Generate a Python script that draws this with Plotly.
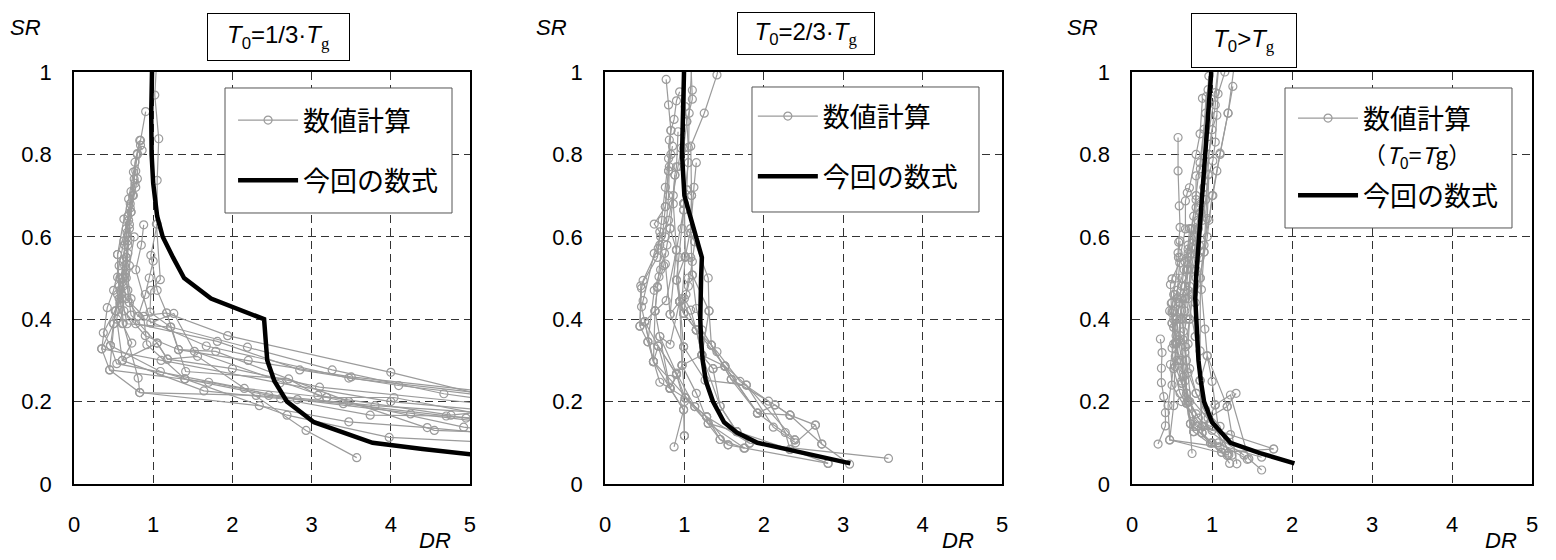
import plotly.graph_objects as go

# ---------------- data ----------------
# Panel 1 : T0 = 1/3 Tg   -- numerical results (DR, SR)
p1_num_x = [
    [1.06, 1.02, 1.07, 1.05, 1.05, 0.97, 1.05, 1.17, 1.94, 4.00, 5.40],
    [0.905, 0.84, 0.80, 0.75, 0.69, 0.63, 0.55, 0.55, 0.67, 1.22, 2.19, 3.26, 4.67, 5.40],
    [0.86, 0.84, 0.78, 0.80, 0.72, 0.68, 0.66, 0.72, 0.78, 1.81, 2.85, 4.10, 5.40],
    [0.83, 0.77, 0.75, 0.70, 0.68, 0.66, 0.70, 0.81, 1.67, 3.47, 5.40],
    [0.80, 0.76, 0.71, 0.67, 0.62, 0.58, 0.50, 0.46, 0.54, 2.15, 3.19, 4.04, 5.40],
    [0.78, 0.72, 0.68, 0.63, 0.57, 0.50, 0.42, 0.35, 0.45, 1.70, 2.82, 4.25, 5.40],
    [0.77, 0.71, 0.66, 0.55, 0.57, 0.61, 0.73, 0.61, 1.64, 2.61, 3.74, 4.70, 5.40],
    [0.74, 0.69, 0.64, 0.61, 0.66, 0.88, 0.92, 1.40, 2.69, 3.98, 5.40],
    [0.72, 0.68, 0.64, 0.60, 0.62, 0.81, 0.83, 2.34, 3.47, 4.46, 5.40],
    [1.04, 1.09, 0.97, 0.96, 1.22, 1.41, 2.71, 3.08, 4.76, 5.40],
    [0.88, 0.85, 0.78, 0.97, 1.26, 1.52, 3.19, 4.92, 5.40],
    [0.76, 0.70, 0.68, 0.72, 1.05, 1.18, 1.56, 2.93, 3.57],
    [0.70, 0.66, 0.61, 0.63, 0.90, 1.32, 1.79, 3.47, 4.55, 5.40],
    [0.68, 0.65, 0.60, 0.37, 0.46, 1.09, 1.40, 2.46, 3.80, 5.40],
    [1.00, 0.95, 0.90, 0.81, 1.17, 1.32, 2.20, 3.50, 5.40],
    [0.66, 0.62, 0.58, 0.54, 0.61, 1.05, 1.18, 2.00, 3.10, 5.40],
    [0.58, 0.55, 0.52, 0.45, 0.83, 2.30, 3.40, 4.95, 5.40],
    [0.62, 0.57, 0.53, 0.50, 0.35, 1.10, 2.60, 4.00, 5.40],
]
p1_num_y = [
    [1.08, 0.944, 0.838, 0.737, 0.631, 0.555, 0.47, 0.415, 0.36, 0.271, 0.205],
    [0.904, 0.834, 0.802, 0.757, 0.692, 0.643, 0.557, 0.502, 0.389, 0.381, 0.332, 0.277, 0.219, 0.20],
    [0.81, 0.822, 0.72, 0.741, 0.66, 0.59, 0.52, 0.45, 0.389, 0.346, 0.277, 0.239, 0.21],
    [0.834, 0.781, 0.70, 0.63, 0.56, 0.50, 0.44, 0.407, 0.335, 0.257, 0.215],
    [0.80, 0.74, 0.68, 0.61, 0.54, 0.47, 0.389, 0.336, 0.292, 0.232, 0.21, 0.21, 0.16],
    [0.76, 0.71, 0.65, 0.59, 0.53, 0.47, 0.428, 0.328, 0.277, 0.247, 0.205, 0.17, 0.145],
    [0.73, 0.67, 0.62, 0.557, 0.48, 0.389, 0.342, 0.30, 0.226, 0.207, 0.167, 0.165, 0.155],
    [0.70, 0.64, 0.58, 0.50, 0.45, 0.407, 0.338, 0.255, 0.167, 0.113, 0.10],
    [0.66, 0.60, 0.53, 0.46, 0.39, 0.257, 0.222, 0.19, 0.151, 0.137, 0.12],
    [0.631, 0.496, 0.47, 0.417, 0.381, 0.273, 0.255, 0.215, 0.167, 0.18],
    [0.629, 0.58, 0.52, 0.391, 0.414, 0.322, 0.21, 0.138, 0.128],
    [0.60, 0.53, 0.47, 0.41, 0.342, 0.303, 0.31, 0.13, 0.064],
    [0.62, 0.55, 0.49, 0.42, 0.36, 0.326, 0.322, 0.20, 0.13, 0.125],
    [0.58, 0.51, 0.45, 0.367, 0.336, 0.273, 0.255, 0.215, 0.19, 0.17],
    [0.541, 0.50, 0.46, 0.407, 0.415, 0.326, 0.30, 0.26, 0.22],
    [0.55, 0.50, 0.44, 0.40, 0.30, 0.342, 0.303, 0.28, 0.235, 0.19],
    [0.50, 0.46, 0.42, 0.277, 0.222, 0.215, 0.195, 0.16, 0.15],
    [0.48, 0.45, 0.42, 0.389, 0.328, 0.30, 0.245, 0.20, 0.175],
]
p1_eq_x = [0.985, 0.975, 0.98, 1.00, 1.05, 1.12, 1.25, 1.39, 1.73, 2.40, 2.42, 2.44, 2.53, 2.69, 3.03, 3.77, 4.40, 5.10]
p1_eq_y = [1.0, 0.9, 0.8, 0.73, 0.65, 0.6, 0.55, 0.5, 0.45, 0.40, 0.35, 0.30, 0.25, 0.20, 0.15, 0.10, 0.085, 0.07]

# Panel 2 : T0 = 2/3 Tg
p2_num_x = [
    [1.45, 1.41, 1.25, 1.08, 1.09, 1.08, 1.13, 1.30, 1.31, 1.22, 1.51, 1.92, 2.33, 2.65, 2.73, 3.08],
    [0.77, 0.80, 0.83, 0.80, 0.76, 0.62, 0.69, 0.67, 0.48, 0.46, 0.44, 0.54, 0.61, 0.69, 0.82, 0.99, 0.87],
    [1.08, 1.10, 1.10, 1.03, 0.99, 0.99, 1.01, 0.90, 0.94, 0.99, 1.15, 1.22, 1.36, 1.45, 1.66, 1.82, 3.57],
    [0.94, 0.90, 0.87, 0.83, 0.81, 0.80, 0.76, 0.68, 0.66, 0.63, 0.50, 0.67, 0.82, 1.01, 1.28, 1.55, 2.81],
    [1.01, 1.01, 1.03, 1.05, 1.03, 1.09, 1.08, 1.10, 1.15, 1.22, 1.34, 1.59, 2.14, 2.33, 2.73],
    [0.92, 0.90, 0.88, 0.82, 0.90, 0.82, 0.94, 0.99, 0.97, 1.15, 1.30, 1.76],
    [1.10, 1.06, 1.05, 0.99, 0.99, 0.90, 0.77, 0.63, 0.61, 0.67, 0.90, 1.00, 1.00],
    [0.85, 0.83, 0.81, 0.80, 0.76, 0.69, 0.76, 0.82, 0.99, 1.26, 1.78, 2.39],
    [0.96, 0.92, 0.86, 0.80, 0.70, 0.62, 0.48, 0.46, 0.50, 0.61, 0.82, 1.13, 1.28, 1.45, 1.75],
    [1.03, 1.00, 1.01, 1.08, 1.10, 1.31, 1.34, 1.41, 1.70, 2.06, 2.27, 2.33],
    [0.88, 0.86, 0.90, 0.94, 0.82, 0.69, 0.82, 0.97, 1.01, 1.30, 1.66],
    [0.99, 0.97, 0.93, 0.90, 0.99, 1.15, 1.51, 1.78, 2.12, 2.40, 2.65],
    [0.80, 0.76, 0.72, 0.66, 0.45, 0.44, 0.50, 0.61, 0.82, 0.99, 1.00],
    [1.13, 1.10, 1.05, 1.00, 1.08, 1.15, 1.22, 1.36, 1.51, 1.92, 2.14, 2.33],
    [0.82, 0.78, 0.74, 0.66, 0.63, 0.69, 0.90, 1.13, 1.45, 1.55],
    [1.05, 1.02, 0.99, 0.94, 0.97, 1.22, 1.45, 1.66, 2.33, 2.81],
    [0.75, 0.70, 0.62, 0.54, 0.67, 0.90, 1.01, 1.28, 1.82],
    [1.15, 1.12, 1.08, 1.01, 0.97, 1.15, 1.34, 1.59, 1.92, 2.39],
]
p2_num_y = [
    [1.03, 0.993, 0.90, 0.82, 0.70, 0.609, 0.588, 0.50, 0.42, 0.313, 0.286, 0.172, 0.167, 0.143, 0.097, 0.048],
    [0.982, 0.92, 0.858, 0.76, 0.673, 0.631, 0.612, 0.572, 0.494, 0.475, 0.383, 0.345, 0.297, 0.247, 0.232, 0.18, 0.09],
    [1.03, 0.956, 0.934, 0.88, 0.815, 0.681, 0.552, 0.495, 0.443, 0.414, 0.374, 0.313, 0.28, 0.189, 0.127, 0.099, 0.062],
    [0.952, 0.93, 0.885, 0.858, 0.835, 0.76, 0.673, 0.503, 0.477, 0.42, 0.394, 0.335, 0.232, 0.209, 0.163, 0.095, 0.05],
    [1.05, 0.916, 0.88, 0.817, 0.714, 0.70, 0.609, 0.507, 0.426, 0.374, 0.337, 0.254, 0.192, 0.167, 0.097],
    [0.855, 0.77, 0.75, 0.62, 0.568, 0.412, 0.443, 0.333, 0.288, 0.22, 0.147, 0.087],
    [1.04, 0.90, 0.78, 0.681, 0.665, 0.568, 0.445, 0.42, 0.297, 0.335, 0.266, 0.20, 0.117],
    [0.82, 0.80, 0.77, 0.70, 0.60, 0.58, 0.534, 0.412, 0.333, 0.252, 0.24, 0.107],
    [0.815, 0.77, 0.70, 0.64, 0.60, 0.56, 0.445, 0.43, 0.394, 0.297, 0.254, 0.188, 0.163, 0.108, 0.087],
    [0.714, 0.68, 0.552, 0.55, 0.507, 0.42, 0.337, 0.321, 0.249, 0.201, 0.125, 0.084],
    [0.75, 0.68, 0.568, 0.443, 0.339, 0.358, 0.232, 0.288, 0.209, 0.147, 0.127],
    [0.665, 0.62, 0.55, 0.495, 0.414, 0.374, 0.286, 0.24, 0.138, 0.10, 0.143],
    [0.79, 0.72, 0.64, 0.55, 0.481, 0.383, 0.394, 0.297, 0.232, 0.18, 0.117],
    [0.588, 0.54, 0.48, 0.45, 0.422, 0.374, 0.313, 0.28, 0.286, 0.172, 0.192, 0.167],
    [0.62, 0.58, 0.53, 0.479, 0.42, 0.358, 0.269, 0.188, 0.108, 0.095],
    [0.50, 0.46, 0.414, 0.443, 0.288, 0.313, 0.189, 0.127, 0.084, 0.05],
    [0.56, 0.52, 0.47, 0.345, 0.335, 0.266, 0.209, 0.163, 0.099],
    [0.78, 0.72, 0.62, 0.55, 0.45, 0.374, 0.337, 0.254, 0.172, 0.107],
]
p2_eq_x = [0.995, 0.98, 0.97, 1.0, 1.07, 1.15, 1.22, 1.21, 1.20, 1.20, 1.21, 1.23, 1.27, 1.36, 1.50, 1.66, 1.92, 2.50, 3.09]
p2_eq_y = [1.0, 0.9, 0.8, 0.7, 0.65, 0.6, 0.55, 0.5, 0.45, 0.4, 0.35, 0.3, 0.25, 0.2, 0.15, 0.125, 0.1, 0.075, 0.05]

# Panel 3 : T0 > Tg
p3_num_x = [
    [0.575, 0.575, 0.59, 0.60, 0.583, 0.575, 0.596, 0.50, 0.48, 0.49, 0.50, 0.50, 0.56, 0.54, 0.625, 0.68, 0.73, 0.77],
    [0.354, 0.375, 0.367, 0.367, 0.396, 0.417, 0.417, 0.325],
    [1.16, 1.075, 1.04, 1.01, 0.96, 0.94, 0.90, 0.867, 0.91, 0.94, 1.00, 1.04, 1.12, 1.22],
    [1.26, 1.20, 1.10, 1.06, 1.01, 0.96, 0.90, 0.854, 0.85, 0.85, 0.875, 1.04, 1.23, 1.46, 1.62],
    [0.95, 0.925, 0.90, 0.854, 0.80, 0.80, 0.75, 0.70, 0.67, 0.625, 0.68, 0.77, 0.98, 1.19],
    [0.88, 0.85, 0.80, 0.717, 0.69, 0.667, 0.667, 0.60, 0.56, 0.54, 0.52, 0.47, 1.21],
    [1.10, 1.04, 0.95, 0.854, 0.80, 0.75, 0.70, 0.79, 0.85, 0.94, 1.19, 1.31],
    [1.06, 1.00, 0.96, 0.90, 0.85, 0.80, 0.75, 0.72, 0.67, 0.68, 0.73, 1.00, 1.62],
    [1.10, 1.04, 0.96, 0.90, 0.83, 0.78, 0.72, 0.68, 0.64, 0.625, 0.77, 1.12, 1.77],
    [0.96, 0.92, 0.85, 0.80, 0.75, 0.70, 0.66, 0.62, 0.60, 0.65, 0.70, 0.75],
    [1.30, 1.20, 1.10, 1.00, 0.94, 0.85, 0.79, 0.79, 0.85, 0.875, 1.00, 1.08, 1.44],
    [0.90, 0.86, 0.82, 0.78, 0.74, 0.70, 0.66, 0.60, 0.56, 0.58, 0.62, 0.66, 0.72, 0.83, 1.00],
    [0.80, 0.77, 0.74, 0.70, 0.65, 0.62, 0.59, 0.55, 0.50, 0.52, 0.60, 0.75, 0.80, 1.23],
    [0.95, 0.92, 0.88, 0.84, 0.80, 0.76, 0.72, 0.70, 0.72, 0.80, 0.95, 1.19, 1.30],
    [0.72, 0.70, 0.66, 0.62, 0.56, 0.52, 0.50, 0.52, 0.48, 0.50, 0.62, 0.88, 1.40],
    [0.86, 0.82, 0.78, 0.74, 0.70, 0.66, 0.64, 0.66, 0.70, 0.80, 0.92, 1.10, 1.20],
    [0.60, 0.58, 0.55, 0.52, 0.50, 0.52, 0.55, 0.60, 0.64, 0.68, 0.98, 1.25],
    [0.70, 0.68, 0.66, 0.62, 0.60, 0.58, 0.56, 0.62, 0.70, 0.80, 0.90, 1.77],
    [0.54, 0.50, 0.47, 0.52, 0.55, 0.54, 0.45, 0.47, 1.10],
]
p3_num_y = [
    [0.841, 0.76, 0.675, 0.623, 0.587, 0.561, 0.537, 0.498, 0.484, 0.439, 0.415, 0.391, 0.342, 0.285, 0.244, 0.196, 0.146, 0.127],
    [0.352, 0.319, 0.281, 0.246, 0.212, 0.173, 0.141, 0.097],
    [1.0, 0.947, 0.83, 0.784, 0.752, 0.644, 0.563, 0.472, 0.376, 0.311, 0.249, 0.192, 0.077, 0.05],
    [0.965, 0.90, 0.803, 0.76, 0.70, 0.64, 0.58, 0.50, 0.323, 0.251, 0.124, 0.192, 0.216, 0.061, 0.034],
    [0.957, 0.94, 0.861, 0.765, 0.748, 0.671, 0.574, 0.52, 0.45, 0.40, 0.30, 0.139, 0.099, 0.069],
    [0.936, 0.85, 0.80, 0.719, 0.707, 0.687, 0.619, 0.55, 0.45, 0.342, 0.19, 0.107, 0.071],
    [1.05, 0.95, 0.843, 0.659, 0.60, 0.574, 0.45, 0.358, 0.251, 0.311, 0.188, 0.049],
    [0.895, 0.86, 0.80, 0.563, 0.55, 0.50, 0.46, 0.40, 0.333, 0.196, 0.146, 0.10, 0.065],
    [1.05, 0.92, 0.80, 0.72, 0.62, 0.54, 0.48, 0.40, 0.35, 0.244, 0.127, 0.077, 0.085],
    [0.99, 0.90, 0.78, 0.70, 0.62, 0.55, 0.48, 0.42, 0.36, 0.28, 0.20, 0.074],
    [1.05, 0.90, 0.80, 0.70, 0.60, 0.50, 0.44, 0.358, 0.251, 0.124, 0.099, 0.10, 0.06],
    [0.72, 0.68, 0.64, 0.60, 0.56, 0.52, 0.48, 0.44, 0.40, 0.35, 0.30, 0.25, 0.20, 0.16, 0.13],
    [0.69, 0.65, 0.62, 0.57, 0.52, 0.48, 0.44, 0.40, 0.33, 0.28, 0.22, 0.17, 0.14, 0.12],
    [0.75, 0.69, 0.64, 0.58, 0.52, 0.46, 0.40, 0.34, 0.28, 0.22, 0.16, 0.188, 0.22],
    [0.62, 0.58, 0.54, 0.50, 0.47, 0.42, 0.39, 0.34, 0.29, 0.24, 0.20, 0.14, 0.07],
    [0.66, 0.62, 0.57, 0.52, 0.47, 0.42, 0.37, 0.32, 0.27, 0.22, 0.18, 0.14, 0.075],
    [0.59, 0.55, 0.50, 0.46, 0.42, 0.38, 0.34, 0.30, 0.26, 0.22, 0.15, 0.07],
    [0.56, 0.52, 0.48, 0.45, 0.40, 0.35, 0.30, 0.25, 0.20, 0.17, 0.14, 0.085],
    [0.46, 0.44, 0.42, 0.40, 0.36, 0.31, 0.19, 0.107, 0.09],
]
p3_eq_x = [0.99, 0.95, 0.91, 0.87, 0.83, 0.80, 0.79, 0.80, 0.81, 0.83, 0.86, 0.90, 1.00, 1.23, 1.60, 2.03]
p3_eq_y = [1.0, 0.9, 0.8, 0.7, 0.6, 0.5, 0.45, 0.4, 0.35, 0.3, 0.25, 0.2, 0.15, 0.1, 0.075, 0.05]

G_SPAN = "<span style='font-family:Liberation Serif'>g</span>"
panel_titles = [
    "<i>T</i><sub>0</sub>=1/3·<i>T</i><sub>" + G_SPAN + "</sub>",
    "<i>T</i><sub>0</sub>=2/3·<i>T</i><sub>" + G_SPAN + "</sub>",
    "<i>T</i><sub>0</sub>&gt;<i>T</i><sub>" + G_SPAN + "</sub>",
]
num_names = [
    "数値計算",
    "数値計算",
    "数値計算<br><span style='font-size:23px'>（<i>T</i><sub>0</sub>=<i>T</i>g）</span>",
]
eq_name = "今回の数式"
x_ticks = [0, 1, 2, 3, 4, 5]
y_ticks = [0, 0.2, 0.4, 0.6, 0.8, 1]

# ---------------- figure ----------------
GRAY = "#9b9b9b"
TICKFONT = dict(family="Liberation Sans, Arial, sans-serif", size=22, color="black")
JPFONT = "Noto Sans CJK JP"

fig = go.Figure()
panels = [
    (p1_num_x, p1_num_y, p1_eq_x, p1_eq_y),
    (p2_num_x, p2_num_y, p2_eq_x, p2_eq_y),
    (p3_num_x, p3_num_y, p3_eq_x, p3_eq_y),
]
for i, (nx, ny, ex, ey) in enumerate(panels):
    xa = "x" if i == 0 else f"x{i+1}"
    ya = "y" if i == 0 else f"y{i+1}"
    leg = "legend" if i == 0 else f"legend{i+1}"
    for j, (sx, sy) in enumerate(zip(nx, ny)):
        fig.add_trace(go.Scatter(
            x=sx, y=sy, mode="lines+markers", xaxis=xa, yaxis=ya,
            line=dict(color=GRAY, width=1.2),
            marker=dict(symbol="circle-open", size=8, color=GRAY, line=dict(width=1.2)),
            name=num_names[i], legendgroup="num", showlegend=(j == 0), legend=leg,
            hoverinfo="skip"))
    fig.add_trace(go.Scatter(
        x=ex, y=ey, mode="lines", xaxis=xa, yaxis=ya,
        line=dict(color="black", width=4.5),
        name=eq_name, legendgroup="eq", showlegend=True, legend=leg))

# page body has an 8px margin: compensate so the plot areas land where the reference has them
domains = [[0.0, 0.2716], [0.3642, 0.6365], [0.7257, 1.0]]
axis_common = dict(
    range=[0, 5], showgrid=True, gridcolor="#333333", gridwidth=1,
    griddash="8px,5px", showline=True, linecolor="black", linewidth=1.5,
    mirror=True, ticks="", zeroline=False, tickfont=TICKFONT,
)
layout = dict(
    width=1556, height=560, paper_bgcolor="white", plot_bgcolor="white",
    margin=dict(l=66, r=32, t=64, b=84), showlegend=True,
)
for i in range(3):
    xk = "xaxis" if i == 0 else f"xaxis{i+1}"
    yk = "yaxis" if i == 0 else f"yaxis{i+1}"
    ax = dict(axis_common)
    ax.update(domain=domains[i], tickvals=x_ticks, ticktext=[str(v) for v in x_ticks],
              anchor="y" if i == 0 else f"y{i+1}", ticklabelstandoff=20)
    layout[xk] = ax
    ay = dict(axis_common)
    ay.update(range=[0, 1], domain=[0, 1], tickvals=y_ticks,
              ticktext=["0", "0.2", "0.4", "0.6", "0.8", "1"],
              anchor="x" if i == 0 else f"x{i+1}", ticklabelstandoff=16)
    layout[yk] = ay

# legends: transparent, positioned over white framed boxes drawn as shapes
legend_pos = [(0.1091, 0.9417, 22, "middle"), (0.4656, 0.9515, 22, "middle"), (0.8361, 0.9466, 4, "top")]
for i, (lx, ly, gap, va) in enumerate(legend_pos):
    lk = "legend" if i == 0 else f"legend{i+1}"
    layout[lk] = dict(
        x=lx, y=ly, xanchor="left", yanchor="top", xref="paper", yref="paper",
        bgcolor="rgba(0,0,0,0)", borderwidth=0, valign=va,
        font=dict(family=JPFONT, size=27, color="black"),
        itemwidth=60, traceorder="grouped", tracegroupgap=gap,
    )
legend_boxes = [(0.10357, 0.25926, 0.6578, 0.9612),
                (0.46502, 0.62071, 0.6602, 0.9636),
                (0.83059, 0.98628, 0.6214, 0.9612)]
layout["shapes"] = [dict(type="rect", xref="paper", yref="paper", x0=a, x1=b, y0=c, y1=d,
                         fillcolor="white", line=dict(color="#555555", width=1), layer="above")
                    for (a, b, c, d) in legend_boxes]
fig.update_layout(**layout)

# title boxes, axis labels
title_pos = [(0.1406, 1.086, 141, 46), (0.5021, 1.094, 136, 41), (0.8025, 1.077, 104, 53)]
for i, (tx, ty, w, h) in enumerate(title_pos):
    fig.add_annotation(x=tx, y=ty, xref="paper", yref="paper", text=panel_titles[i],
                       xanchor="center", yanchor="middle",
                       showarrow=False, width=w, height=h, bgcolor="white",
                       bordercolor="black", borderwidth=1, borderpad=0,
                       font=dict(family="Liberation Sans, Arial", size=24, color="black"))
sr_x = [-0.0336, 0.3278, 0.692]
dr_x = [0.2476, 0.6063, 0.9787]
for i in range(3):
    fig.add_annotation(x=sr_x[i], y=1.107, xref="paper", yref="paper", text="<i>SR</i>",
                       xanchor="center", yanchor="middle", showarrow=False,
                       font=dict(family="Liberation Sans, Arial", size=22, color="black"))
    fig.add_annotation(x=dr_x[i], y=-0.136, xref="paper", yref="paper", text="<i>DR</i>",
                       xanchor="center", yanchor="middle", showarrow=False,
                       font=dict(family="Liberation Sans, Arial", size=22, color="black"))

fig.write_html("out.html")
